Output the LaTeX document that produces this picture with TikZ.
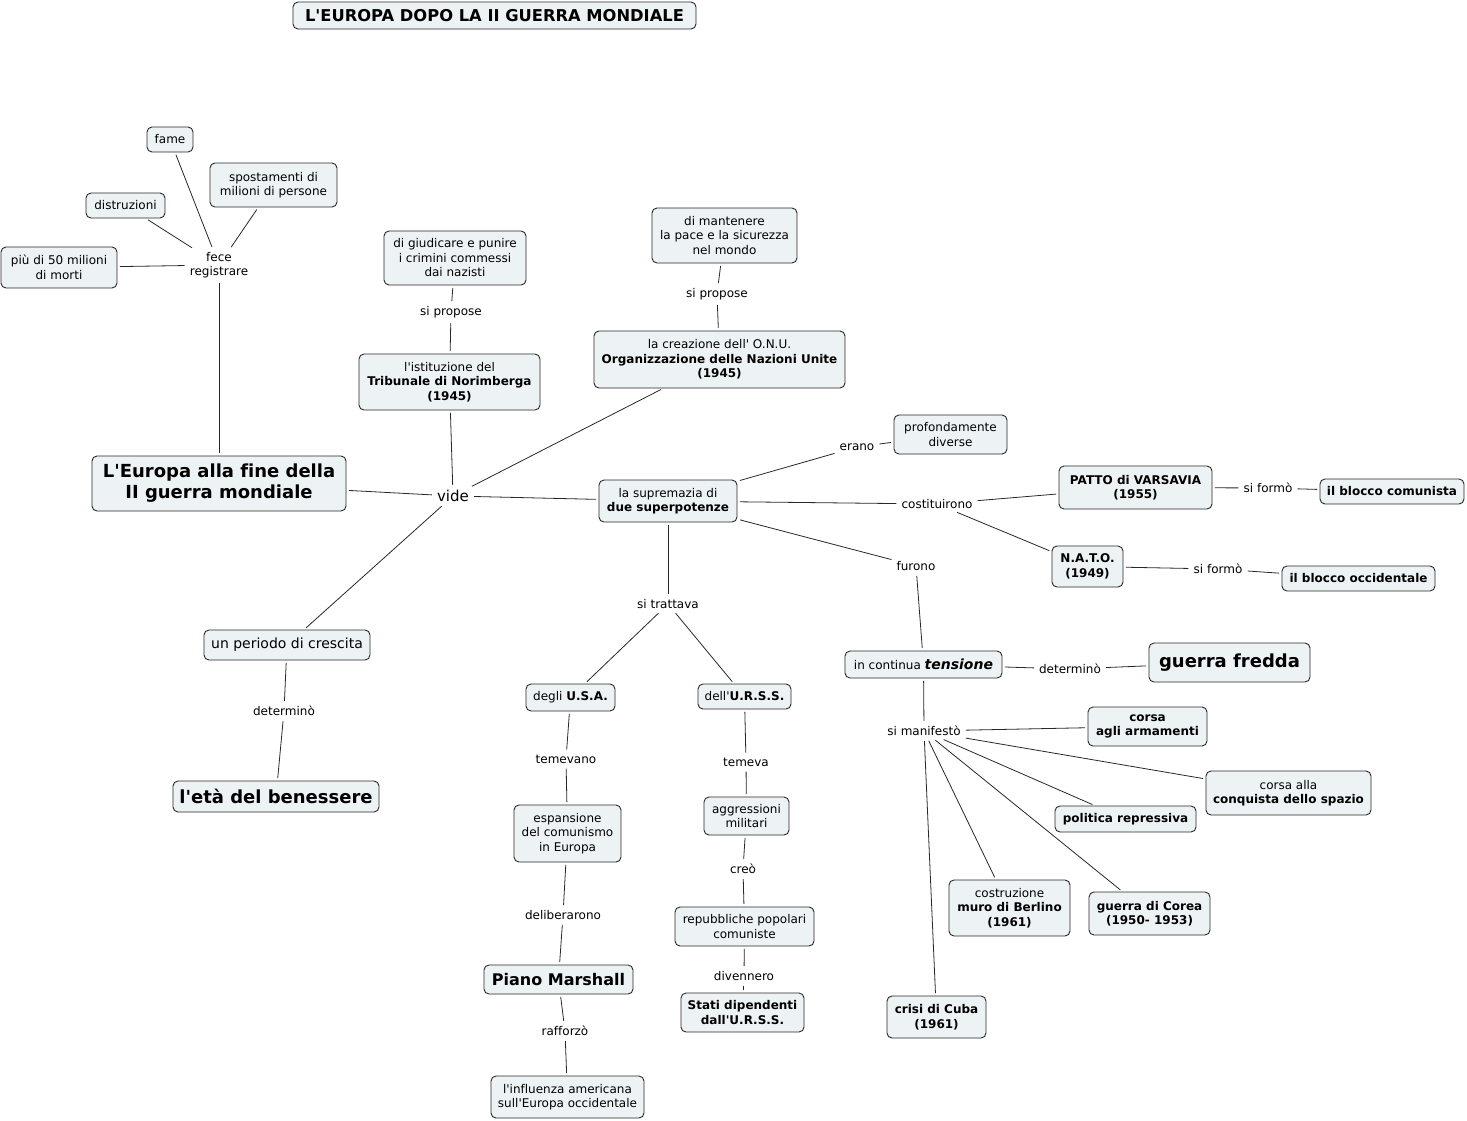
\documentclass[tikz,border=0pt]{standalone}
\usepackage{fontspec}
\setmainfont{DejaVu Sans}[Ligatures={TeXOff,NoCommon}]
\definecolor{boxfill}{RGB}{237,243,245}
\definecolor{linec}{RGB}{40,40,40}
\tikzset{
  cbox/.style 2 args={draw=linec, line width=0.9pt, rounded corners=5pt, fill=boxfill,
    minimum width=#1pt, minimum height=#2pt, inner sep=1pt, align=center,
    font=\fontsize{12}{14.5}\selectfont},
  lbl/.style={inner sep=2.5pt, align=center, font=\fontsize{12}{14.5}\selectfont},
  conn/.style={draw=linec, line width=0.8pt, shorten <=2.5pt, shorten >=2.5pt},
}
\begin{document}
\begin{tikzpicture}[x=1pt,y=-1pt]
\useasboundingbox[fill=white] (0,0) rectangle (1467,1120);

% title
\node[cbox={403}{27}, font=\fontsize{16.3}{18}\selectfont\bfseries] (title) at (494.5,15.5) {L'EUROPA DOPO LA II GUERRA MONDIALE};

% left cluster
\node[cbox={46}{25}] (fame) at (170,139.5) {fame};
\node[cbox={127}{44}] (spost) at (273.5,185) {spostamenti di\\milioni di persone};
\node[cbox={79}{25}] (distr) at (125.5,205.5) {distruzioni};
\node[cbox={116}{41}] (piu) at (59,267.5) {più di 50 milioni\\di morti};
\node[lbl] (fece) at (219,265) {fece\\registrare};
\node[cbox={254}{55}, font=\fontsize{18}{21}\selectfont\bfseries] (europa) at (219,483.5) {L'Europa alla fine della\\II guerra mondiale};
\node[lbl, font=\fontsize{15}{18}\selectfont] (vide) at (453,496) {vide};

% top middle
\node[cbox={142}{54}] (giud) at (455,258) {di giudicare e punire\\i crimini commessi\\dai nazisti};
\node[lbl] (sip1) at (451,312) {si propose};
\node[cbox={181}{56}] (trib) at (449.5,382) {l'istituzione del\\\textbf{Tribunale di Norimberga}\\\textbf{(1945)}};
\node[cbox={145}{55}] (mant) at (724.5,235.5) {di mantenere\\la pace e la sicurezza\\nel mondo};
\node[lbl] (sip2) at (717,294) {si propose};
\node[cbox={251}{57}] (onu) at (719.5,359.5) {la creazione dell' O.N.U.\\\textbf{Organizzazione delle Nazioni Unite}\\\textbf{(1945)}};

% superpowers
\node[cbox={138}{42}] (supr) at (668,501) {la supremazia di\\\textbf{due superpotenze}};
\node[lbl] (erano) at (857,447) {erano};
\node[cbox={113}{39}] (prof) at (950.5,434.5) {profondamente\\diverse};
\node[lbl] (cost) at (937,504) {costituirono};
\node[cbox={153}{43}, font=\fontsize{12}{14.5}\selectfont\bfseries] (patto) at (1135.5,487.5) {PATTO di VARSAVIA\\(1955)};
\node[lbl] (sif1) at (1268,488) {si formò};
\node[cbox={144}{25}, font=\fontsize{12}{14.5}\selectfont\bfseries] (bcom) at (1392,491.5) {il blocco comunista};
\node[cbox={71}{41}, font=\fontsize{12}{14.5}\selectfont\bfseries] (nato) at (1087.5,566.5) {N.A.T.O.\\(1949)};
\node[lbl] (sif2) at (1218,569) {si formò};
\node[cbox={153}{25}, font=\fontsize{12}{14.5}\selectfont\bfseries] (bocc) at (1358.5,578.5) {il blocco occidentale};
\node[lbl] (furono) at (916,566) {furono};
\node[cbox={157}{27}] (tens) at (923.5,664.5) {in continua {\fontsize{14}{16}\selectfont\bfseries\itshape tensione}};
\node[lbl] (det2) at (1070,669) {determinò};
\node[cbox={161}{39}, font=\fontsize{18}{21}\selectfont\bfseries] (gf) at (1229.5,662.5) {guerra fredda};
\node[lbl] (siman) at (924,731) {si manifestò};
\node[cbox={119}{39}, font=\fontsize{12}{14.5}\selectfont\bfseries] (arm) at (1147.5,726.5) {corsa\\agli armamenti};
\node[cbox={165}{44}] (spazio) at (1288.5,793) {corsa alla\\\textbf{conquista dello spazio}};
\node[cbox={141}{26}, font=\fontsize{12}{14.5}\selectfont\bfseries] (pol) at (1125.5,819) {politica repressiva};
\node[cbox={121}{56}] (muro) at (1009.5,908) {costruzione\\\textbf{muro di Berlino}\\\textbf{(1961)}};
\node[cbox={121}{43}, font=\fontsize{12}{14.5}\selectfont\bfseries] (corea) at (1149.5,913.5) {guerra di Corea\\(1950- 1953)};
\node[cbox={99}{42}, font=\fontsize{12}{14.5}\selectfont\bfseries] (cuba) at (936.5,1017) {crisi di Cuba\\(1961)};

% USA / URSS
\node[lbl] (sitr) at (668,604) {si trattava};
\node[cbox={89}{27}] (usa) at (570.5,697.5) {degli \textbf{U.S.A.}};
\node[cbox={93}{25}] (urss) at (744.5,696.5) {dell'\textbf{U.R.S.S.}};
\node[lbl] (temv) at (566,759) {temevano};
\node[lbl] (tem) at (746,762) {temeva};
\node[cbox={107}{57}] (esp) at (567.5,833.5) {espansione\\del comunismo\\in Europa};
\node[cbox={85}{38}] (aggr) at (746.5,816) {aggressioni\\militari};
\node[lbl] (creo) at (743,869) {creò};
\node[lbl] (delib) at (563,915) {deliberarono};
\node[cbox={139}{39}] (rep) at (744.5,926.5) {repubbliche popolari\\comuniste};
\node[lbl] (div) at (744,976) {divennero};
\node[cbox={149}{29}, font=\fontsize{16}{18}\selectfont\bfseries] (piano) at (558.5,979.5) {Piano Marshall};
\node[cbox={123}{39}, font=\fontsize{12}{14.5}\selectfont\bfseries] (stati) at (742.5,1012.5) {Stati dipendenti\\dall'U.R.S.S.};
\node[lbl] (raff) at (565,1031) {rafforzò};
\node[cbox={153}{42}] (infl) at (567.5,1097) {l'influenza americana\\sull'Europa occidentale};

% growth
\node[cbox={166}{30}, font=\fontsize{14}{16}\selectfont] (cresc) at (287,645) {un periodo di crescita};
\node[lbl] (det1) at (284,711) {determinò};
\node[cbox={206}{31}, font=\fontsize{18}{21}\selectfont\bfseries] (ben) at (276,796.5) {l'età del benessere};

% connectors
\draw[conn] (europa) -- (fece);
\draw[conn] (fece) -- (fame);
\draw[conn] (fece) -- (spost);
\draw[conn] (fece) -- (distr);
\draw[conn] (fece) -- (piu);
\draw[conn] (europa) -- (vide);
\draw[conn] (vide) -- (trib);
\draw[conn] (vide) -- (onu);
\draw[conn] (vide) -- (supr);
\draw[conn] (vide) -- (cresc);
\draw[conn] (trib) -- (sip1);
\draw[conn] (sip1) -- (giud);
\draw[conn] (onu) -- (sip2);
\draw[conn] (sip2) -- (mant);
\draw[conn] (supr) -- (erano);
\draw[conn] (erano) -- (prof);
\draw[conn] (supr) -- (cost);
\draw[conn] (cost) -- (patto);
\draw[conn] (cost) -- (nato);
\draw[conn] (patto) -- (sif1);
\draw[conn] (sif1) -- (bcom);
\draw[conn] (nato) -- (sif2);
\draw[conn] (sif2) -- (bocc);
\draw[conn] (supr) -- (furono);
\draw[conn] (furono) -- (tens);
\draw[conn] (tens) -- (det2);
\draw[conn] (det2) -- (gf);
\draw[conn] (tens) -- (siman);
\draw[conn] (siman) -- (arm);
\draw[conn] (siman) -- (spazio);
\draw[conn] (siman) -- (pol);
\draw[conn] (siman) -- (muro);
\draw[conn] (siman) -- (corea);
\draw[conn] (siman) -- (cuba);
\draw[conn] (supr) -- (sitr);
\draw[conn] (sitr) -- (usa);
\draw[conn] (sitr) -- (urss);
\draw[conn] (usa) -- (temv);
\draw[conn] (temv) -- (esp);
\draw[conn] (esp) -- (delib);
\draw[conn] (delib) -- (piano);
\draw[conn] (piano) -- (raff);
\draw[conn] (raff) -- (infl);
\draw[conn] (urss) -- (tem);
\draw[conn] (tem) -- (aggr);
\draw[conn] (aggr) -- (creo);
\draw[conn] (creo) -- (rep);
\draw[conn] (rep) -- (div);
\draw[conn] (div) -- (stati);
\draw[conn] (cresc) -- (det1);
\draw[conn] (det1) -- (ben);
\end{tikzpicture}
\end{document}
